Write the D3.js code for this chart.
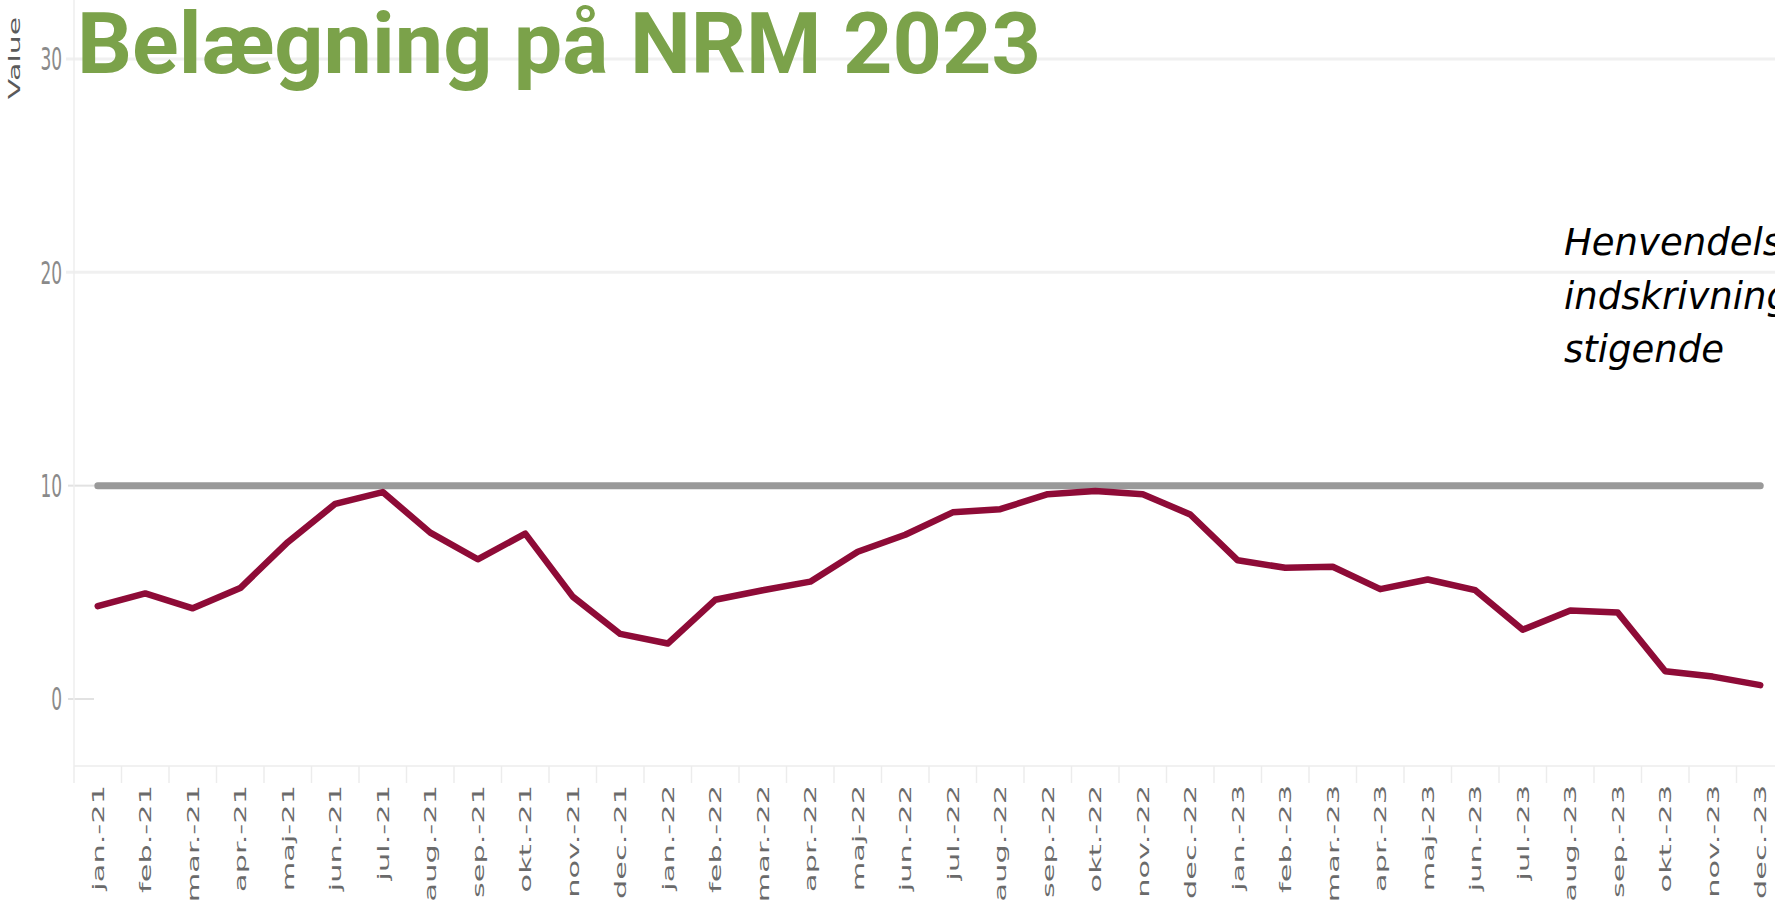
<!DOCTYPE html>
<html>
<head>
<meta charset="utf-8">
<script src="https://cdn.jsdelivr.net/npm/d3@7"></script>
<style>
  html, body { margin: 0; padding: 0; background: #fff; overflow: hidden; }
  svg { display: block; }
</style>
</head>
<body>
<div id="chart"><svg></svg></div>
<script>
// data
const months = [
  "jan.-21","feb.-21","mar.-21","apr.-21","maj-21","jun.-21","jul.-21","aug.-21","sep.-21","okt.-21","nov.-21","dec.-21",
  "jan.-22","feb.-22","mar.-22","apr.-22","maj-22","jun.-22","jul.-22","aug.-22","sep.-22","okt.-22","nov.-22","dec.-22",
  "jan.-23","feb.-23","mar.-23","apr.-23","maj-23","jun.-23","jul.-23","aug.-23","sep.-23","okt.-23","nov.-23","dec.-23"
];
const values = [
  4.35, 4.95, 4.25, 5.2, 7.35, 9.15, 9.7, 7.8, 6.55, 7.75, 4.8, 3.05,
  2.6, 4.65, 5.1, 5.5, 6.9, 7.7, 8.75, 8.9, 9.6, 9.75, 9.6, 8.65,
  6.5, 6.15, 6.2, 5.15, 5.6, 5.1, 3.25, 4.15, 4.05, 1.3, 1.05, 0.65
];
const target = 10;
const yTicks = [0, 10, 20, 30];
const title = "Belægning på NRM 2023";
const note = ["Henvendelser/", "indskrivninger", "stigende"];

const width = 1775, height = 905;

const svg = d3.select("#chart svg")
  .attr("width", width)
  .attr("height", height);

const x = d3.scaleBand().domain(months).range([74, 1784]);
const y = d3.scaleLinear().domain([0, 30]).range([699, 59]);
const cx = d => x(d) + x.bandwidth() / 2;

// gridlines (only the upper ones run across)
svg.append("g")
  .selectAll("line")
  .data(yTicks.filter(d => d >= 20))
  .join("line")
  .attr("x1", 66).attr("x2", width)
  .attr("y1", d => y(d)).attr("y2", d => y(d))
  .attr("stroke", "#f0f0f0")
  .attr("stroke-width", 3);

// little stubs at 0 and 10
svg.append("g")
  .selectAll("line")
  .data(yTicks.filter(d => d < 20))
  .join("line")
  .attr("x1", 68).attr("x2", 94)
  .attr("y1", d => y(d)).attr("y2", d => y(d))
  .attr("stroke", "#e2e2e2")
  .attr("stroke-width", 2);

// y axis line
svg.append("line")
  .attr("x1", 74).attr("x2", 74)
  .attr("y1", 0).attr("y2", 766)
  .attr("stroke", "#eeeeee")
  .attr("stroke-width", 1.5);

// bottom axis + category separators
svg.append("line")
  .attr("x1", 74).attr("x2", width)
  .attr("y1", 766).attr("y2", 766)
  .attr("stroke", "#ececec")
  .attr("stroke-width", 1.5);

svg.append("g")
  .selectAll("line")
  .data(months)
  .join("line")
  .attr("x1", d => x(d)).attr("x2", d => x(d))
  .attr("y1", 766).attr("y2", 783)
  .attr("stroke", "#ececec")
  .attr("stroke-width", 1.5);

// y labels (the screenshot is stretched vertically)
svg.append("g")
  .selectAll("text")
  .data(yTicks)
  .join("text")
  .attr("transform", d => `translate(62,${y(d)}) scale(1,1.85)`)
  .attr("text-anchor", "end")
  .attr("dy", "0.36em")
  .attr("font-family", "DejaVu Sans, Verdana, sans-serif")
  .attr("font-size", 17)
  .attr("fill", "#8a8a8a")
  .text(d => d);

// axis title
svg.append("text")
  .attr("transform", "translate(15,58) rotate(-90) scale(2.0,1)")
  .attr("text-anchor", "middle")
  .attr("dy", "0.36em")
  .attr("font-family", "DejaVu Sans, Verdana, sans-serif")
  .attr("font-size", 15)
  .attr("fill", "#5a5a5a")
  .text("Value");

// month labels
svg.append("g")
  .selectAll("text")
  .data(months)
  .join("text")
  .attr("transform", d => `translate(${cx(d)},785) rotate(-90) scale(1.9,1)`)
  .attr("text-anchor", "end")
  .attr("dy", "0.36em")
  .attr("font-family", "DejaVu Sans, Verdana, sans-serif")
  .attr("font-size", 16)
  .attr("fill", "#6a6a6a")
  .text(d => d);

// target line at 10
svg.append("line")
  .attr("x1", cx(months[0])).attr("x2", cx(months[months.length - 1]))
  .attr("y1", y(target)).attr("y2", y(target))
  .attr("stroke", "#999")
  .attr("stroke-width", 7)
  .attr("stroke-linecap", "round");

// series
const line = d3.line()
  .x((d, i) => cx(months[i]))
  .y(d => y(d));

svg.append("path")
  .datum(values)
  .attr("d", line)
  .attr("fill", "none")
  .attr("stroke", "#8e0b37")
  .attr("stroke-width", 6.5)
  .attr("stroke-linejoin", "round")
  .attr("stroke-linecap", "round");

// note on the right (cut off by the page edge, as in the original)
svg.append("text")
  .attr("x", 1564)
  .attr("y", 255)
  .attr("font-family", "DejaVu Sans, Verdana, sans-serif")
  .attr("font-style", "italic")
  .attr("font-size", 37)
  .attr("fill", "#000")
  .selectAll("tspan")
  .data(note)
  .join("tspan")
  .attr("x", 1564)
  .attr("dy", (d, i) => i === 0 ? 0 : 53.5)
  .text(d => d);

// title
svg.append("text")
  .attr("x", 77)
  .attr("y", 73)
  .attr("font-family", "Roboto, sans-serif")
  .attr("font-weight", "bold")
  .attr("font-size", 86)
  .attr("fill", "#7ba24a")
  .attr("textLength", 964)
  .attr("lengthAdjust", "spacingAndGlyphs")
  .text(title);
</script>
</body>
</html>
